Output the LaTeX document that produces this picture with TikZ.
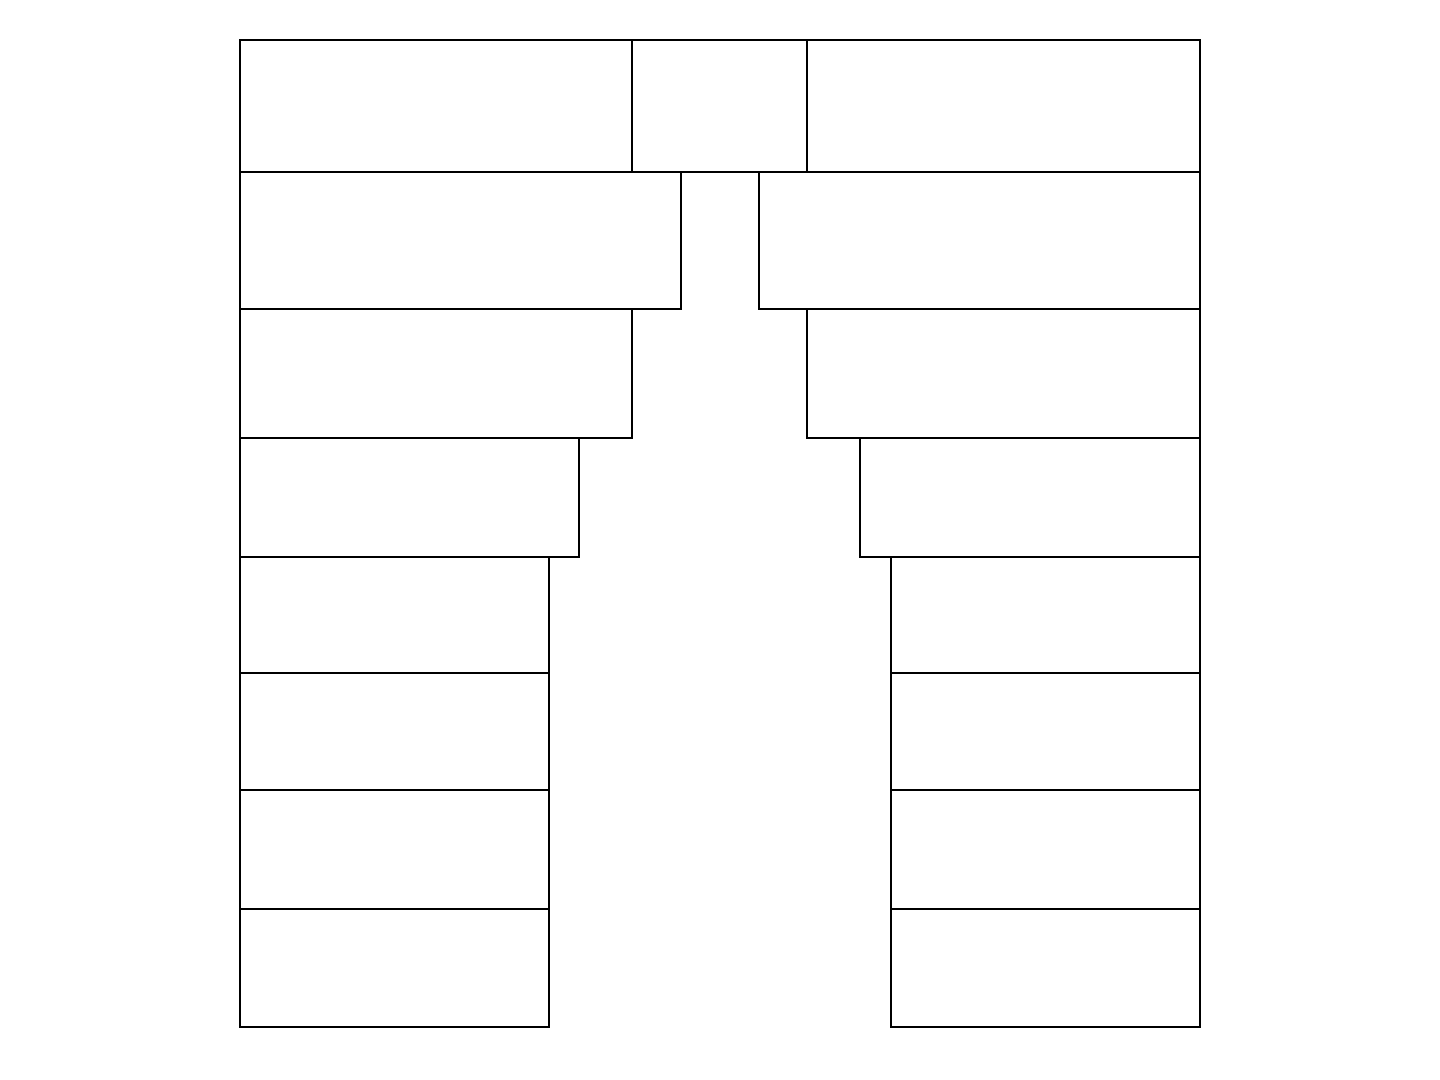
\documentclass[tikz,border=0pt]{standalone}
\begin{document}
\begin{tikzpicture}[line width=0.7pt, line join=miter]
\useasboundingbox (0,0) rectangle (14.4,10.8);
\def\xl{2.40};
\def\xr{12.00};
\def\xa{6.32};
\def\xb{8.07};
\def\xc{6.81};
\def\xd{7.59};
\def\xe{5.79};
\def\xf{8.60};
\def\xg{5.49};
\def\xh{8.91};

\def\ya{10.40};
\def\yb{9.08};
\def\yc{7.71};
\def\yd{6.42};
\def\ye{5.23};
\def\yf{4.07};
\def\yg{2.90};
\def\yh{1.71};
\def\yi{0.53};

% top row
\draw (\xl, \yb) rectangle (\xa, \ya);
\draw (\xa, \yb) rectangle (\xb, \ya);
\draw (\xb, \yb) rectangle (\xr, \ya);

% second row
\draw (\xl, \yc) rectangle (\xc, \yb);
\draw (\xd, \yc) rectangle (\xr, \yb);

% third row
\draw (\xl, \yd) rectangle (\xa, \yc);
\draw (\xb, \yd) rectangle (\xr, \yc);

% fourth row
\draw (\xl, \ye) rectangle (\xe, \yd);
\draw (\xf, \ye) rectangle (\xr, \yd);

% legs
\draw (\xl, \yf) rectangle (\xg, \ye);
\draw (\xh, \yf) rectangle (\xr, \ye);
\draw (\xl, \yg) rectangle (\xg, \yf);
\draw (\xh, \yg) rectangle (\xr, \yf);
\draw (\xl, \yh) rectangle (\xg, \yg);
\draw (\xh, \yh) rectangle (\xr, \yg);
\draw (\xl, \yi) rectangle (\xg, \yh);
\draw (\xh, \yi) rectangle (\xr, \yh);
\end{tikzpicture}
\end{document}
